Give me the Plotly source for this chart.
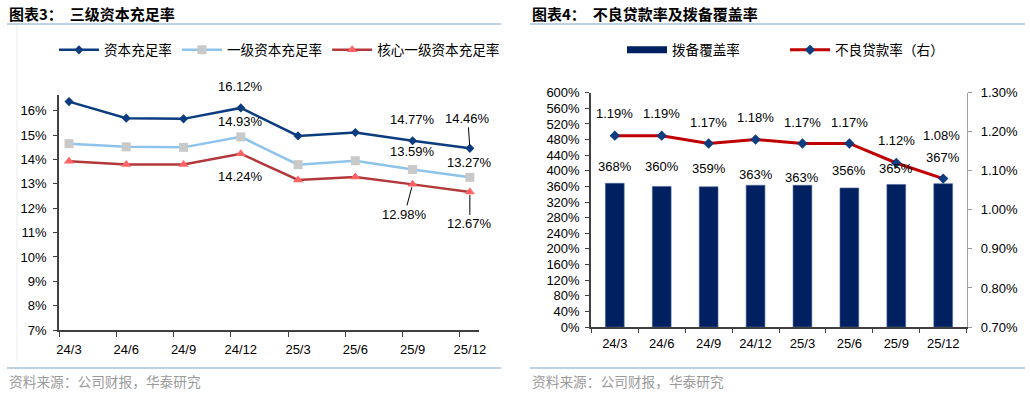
import plotly.graph_objects as go

W, H = 1030, 393

# ---------------- data ----------------
quarters = ["24/3", "24/6", "24/9", "24/12", "25/3", "25/6", "25/9", "25/12"]
car = [16.38, 15.70, 15.67, 16.12, 14.97, 15.11, 14.77, 14.46]      # 资本充足率
tier1 = [14.65, 14.52, 14.50, 14.93, 13.79, 13.95, 13.59, 13.27]    # 一级资本充足率
cet1 = [13.93, 13.80, 13.80, 14.24, 13.16, 13.28, 12.98, 12.67]     # 核心一级资本充足率
left_yticks = [7, 8, 9, 10, 11, 12, 13, 14, 15, 16]

provision = [368, 360, 359, 363, 363, 356, 365, 367]               # 拨备覆盖率
npl = [1.19, 1.19, 1.17, 1.18, 1.17, 1.17, 1.12, 1.08]              # 不良贷款率
bar_yticks = [0, 40, 80, 120, 160, 200, 240, 280, 320, 360, 400, 440, 480, 520, 560, 600]
npl_yticks = [0.70, 0.80, 0.90, 1.00, 1.10, 1.20, 1.30]

# ---------------- styles ----------------
NUM_FONT = "Liberation Sans, Arial, sans-serif"
CJK_FONT = "Noto Sans CJK SC, sans-serif"
NAVY = "#0B3C7F"
LIGHT = "#8EC4EC"
GRAY_SQ = "#C9C9C9"
RED_LINE = "#B3373B"
RED_MK = "#FF6464"
BAR = "#002060"
NPL_RED = "#C00000"
AX = "#404040"
RULE = "#A9C1DB"


def px(x):
    return x / W


def py(y):
    return (H - y) / H


xi = list(range(len(quarters)))

fig = go.Figure()

# ----- left chart -----
fig.add_trace(go.Scatter(x=xi, y=car, name="资本充足率", mode="lines+markers",
                         line=dict(color=NAVY, width=2.5),
                         marker=dict(symbol="diamond", size=7, color=NAVY),
                         xaxis="x", yaxis="y", legend="legend"))
fig.add_trace(go.Scatter(x=xi, y=tier1, name="一级资本充足率", mode="lines+markers",
                         line=dict(color=LIGHT, width=2.5),
                         marker=dict(symbol="square", size=9, color=GRAY_SQ),
                         xaxis="x", yaxis="y", legend="legend"))
fig.add_trace(go.Scatter(x=xi, y=cet1, name="核心一级资本充足率", mode="lines+markers",
                         line=dict(color=RED_LINE, width=2.5),
                         marker=dict(symbol="triangle-up", size=9, color=RED_MK),
                         xaxis="x", yaxis="y", legend="legend"))

# ----- right chart -----
fig.add_trace(go.Bar(x=quarters, y=provision, name="拨备覆盖率", width=0.4,
                     marker=dict(color=BAR, line=dict(color="#4A6596", width=0.6)),
                     showlegend=False, xaxis="x2", yaxis="y2"))
fig.add_trace(go.Scatter(x=[None], y=[None], name="拨备覆盖率", mode="lines",
                         line=dict(color=BAR, width=7),
                         xaxis="x2", yaxis="y2", legend="legend2"))
fig.add_trace(go.Scatter(x=quarters, y=npl, name="不良贷款率（右）", mode="lines+markers",
                         line=dict(color=NPL_RED, width=3),
                         marker=dict(symbol="diamond", size=8, color=NAVY),
                         xaxis="x2", yaxis="y3", legend="legend2"))

annotations = []

# left labels: (series, point, dx, dy, leader line)
series = [car, tier1, cet1]
left_labels = [
    (0, 3, 0, -21, False), (1, 3, 0, -15, False), (2, 3, 0, 23, False),
    (0, 6, 0, -21, False), (1, 6, 0, -18, False), (2, 6, -8, 30, True),
    (0, 7, -2, -30, True), (1, 7, 0, -15, False), (2, 7, 0, 32, True),
]
for s, i, dx, dy, arrow in left_labels:
    v = series[s][i]
    a = dict(x=xi[i], y=v, xref="x", yref="y", text=f"{v:.2f}%",
             font=dict(family=NUM_FONT, size=13, color="#000"))
    if arrow:
        a.update(showarrow=True, ax=dx, ay=dy, arrowhead=0, arrowwidth=1,
                 arrowcolor="#000", standoff=3)
    else:
        a.update(showarrow=False, xshift=dx, yshift=-dy)
    annotations.append(a)

# right bar labels
bar_shift = [17, 20, 18, 11, 8, 17, 16, 26]
for q, v, sh in zip(quarters, provision, bar_shift):
    annotations.append(dict(x=q, y=v, xref="x2", yref="y2", text=f"{v}%", showarrow=False,
                            yshift=sh, font=dict(family=NUM_FONT, size=13, color="#000")))
npl_shift = [22, 22, 21, 22, 21, 21, 22, 43]
npl_xshift = [0, 0, 0, 0, 0, 0, 0, -2]
for q, v, sh, xs in zip(quarters, npl, npl_shift, npl_xshift):
    annotations.append(dict(x=q, y=v, xref="x2", yref="y3", text=f"{v:.2f}%", showarrow=False,
                            yshift=sh, xshift=xs, font=dict(family=NUM_FONT, size=13, color="#000")))

# titles and footers
for x0, t in [(7, "图表3：  三级资本充足率"), (530, "图表4：  不良贷款率及拨备覆盖率")]:
    annotations.append(dict(x=px(x0), y=py(14), xref="paper", yref="paper", xanchor="left",
                            yanchor="middle", showarrow=False, text=f"<b>{t}</b>",
                            font=dict(family=CJK_FONT, size=15, color="#000")))
    annotations.append(dict(x=px(x0), y=py(381), xref="paper", yref="paper", xanchor="left",
                            yanchor="middle", showarrow=False, text="资料来源：公司财报，华泰研究",
                            font=dict(family=CJK_FONT, size=13.7, color="#9A9A9A")))

shapes = []
for x0, x1 in [(7, 501), (530, 1025)]:
    for yy in (24, 368):
        shapes.append(dict(type="line", xref="paper", yref="paper", x0=px(x0), x1=px(x1),
                           y0=py(yy), y1=py(yy), line=dict(color=RULE, width=1.5)))
shapes.append(dict(type="line", xref="paper", yref="paper", x0=px(17), x1=px(17),
                   y0=py(25), y1=py(363), line=dict(color="#EDEDED", width=1)))

fig.update_layout(
    width=W, height=H, autosize=False,
    margin=dict(l=0, r=0, t=0, b=0, pad=0, autoexpand=False),
    paper_bgcolor="white", plot_bgcolor="white",
    font=dict(family=NUM_FONT, size=13, color="#000"),
    xaxis=dict(domain=[px(59), px(479)], range=[-0.175, 7.16], tickmode="array",
               tickvals=xi, ticktext=quarters, ticks="outside", ticklen=5,
               tickcolor="rgba(0,0,0,0)", showline=True, linecolor=AX, linewidth=1.5,
               showgrid=False, zeroline=False, ticklabelstandoff=2, automargin=False,
               minor=dict(tickmode="array", tickvals=[i - 0.175 for i in xi],
                          ticks="outside", ticklen=5, tickcolor=AX, tickwidth=1, showgrid=False),
               tickfont=dict(family=NUM_FONT, size=13)),
    yaxis=dict(domain=[py(330), py(95)], range=[7, 16.65], tickmode="array",
               tickvals=left_yticks, ticktext=[f"{v}%" for v in left_yticks],
               ticks="outside", ticklen=4, tickcolor=AX, showline=True, linecolor=AX,
               linewidth=1.5, showgrid=False, zeroline=False, ticklabelstandoff=4,
               automargin=False, tickfont=dict(family=NUM_FONT, size=13)),
    xaxis2=dict(domain=[px(591), px(967)], type="category", tickson="boundaries",
                ticks="outside", ticklen=4, tickcolor=AX, showline=True, linecolor=AX,
                linewidth=1.5, showgrid=False, zeroline=False, anchor="y2",
                ticklabelstandoff=4, automargin=False, tickfont=dict(family=NUM_FONT, size=13)),
    yaxis2=dict(domain=[py(327), py(92.7)], range=[0, 600], tickmode="array",
                tickvals=bar_yticks, ticktext=[f"{v}%" for v in bar_yticks],
                ticks="outside", ticklen=4, tickcolor=AX, showline=True, linecolor=AX,
                linewidth=1.5, showgrid=False, zeroline=False, anchor="x2",
                ticklabelstandoff=3, automargin=False, tickfont=dict(family=NUM_FONT, size=13)),
    yaxis3=dict(domain=[py(327), py(92.7)], range=[0.7, 1.3], overlaying="y2", side="right",
                anchor="x2", tickmode="array", tickvals=npl_yticks,
                ticktext=[f"{v:.2f}%" for v in npl_yticks], ticks="outside", ticklen=4,
                tickcolor="#999", showline=True, linecolor="#A0A0A0", linewidth=1.2,
                showgrid=False, zeroline=False, ticklabelstandoff=6, automargin=False,
                tickfont=dict(family=NUM_FONT, size=13)),
    legend=dict(orientation="h", x=px(54), y=py(50), xanchor="left", yanchor="middle",
                font=dict(family=CJK_FONT, size=13.6), bgcolor="rgba(0,0,0,0)", itemwidth=40,
                traceorder="normal"),
    legend2=dict(orientation="h", x=px(622), y=py(50), xanchor="left", yanchor="middle",
                 font=dict(family=CJK_FONT, size=13.6), bgcolor="rgba(0,0,0,0)", itemwidth=40,
                 traceorder="normal", entrywidth=108),
    annotations=annotations, shapes=shapes,
)

fig.write_html("out.html", config={"displayModeBar": False},
               post_script="document.body.style.margin='0';document.body.style.padding='0';"
                           "document.documentElement.style.overflow='hidden';")
